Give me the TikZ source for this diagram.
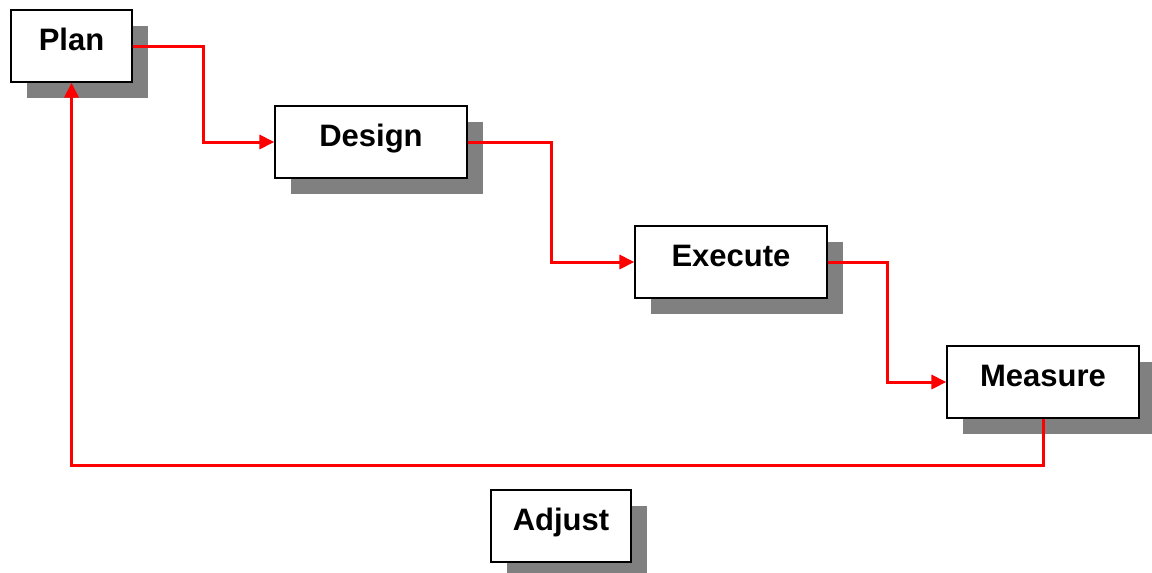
\documentclass[tikz,border=0pt]{standalone}
\usepackage{fontspec}
\setmainfont{Liberation Sans}
\usetikzlibrary{arrows.meta,shadows}
\begin{document}
\begin{tikzpicture}[x=1pt,y=-1pt,
  box/.style={draw=black, line width=1.2pt, fill=white, rectangle, inner sep=0pt,
    minimum height=72pt, text height=22pt, text depth=14pt,
    font=\fontsize{31}{36}\selectfont\bfseries,
    general shadow={fill=black!50, shadow xshift=16pt, shadow yshift=-16pt}},
  flow/.style={draw=red, line width=3pt, -{Triangle[length=15pt,width=14pt]}}]
\useasboundingbox (0,0) rectangle (1152,573);
\node[box, minimum width=121pt] (plan) at (71.5,46) {Plan};
\node[box, minimum width=192pt] (design) at (371,142) {Design};
\node[box, minimum width=192pt] (execute) at (731,262) {Execute};
\node[box, minimum width=192pt] (measure) at (1043,382) {Measure};
\node[box, minimum width=140pt] (adjust) at (561,526) {Adjust};
\draw[flow] (plan.east) -- ++(71,0) |- (design.west);
\draw[flow] (design.east) -- ++(84,0) |- (execute.west);
\draw[flow] (execute.east) -- ++(60,0) |- (measure.west);
\draw[flow] (measure.south) -- ++(0,47) -| (plan.south);
\end{tikzpicture}
\end{document}
